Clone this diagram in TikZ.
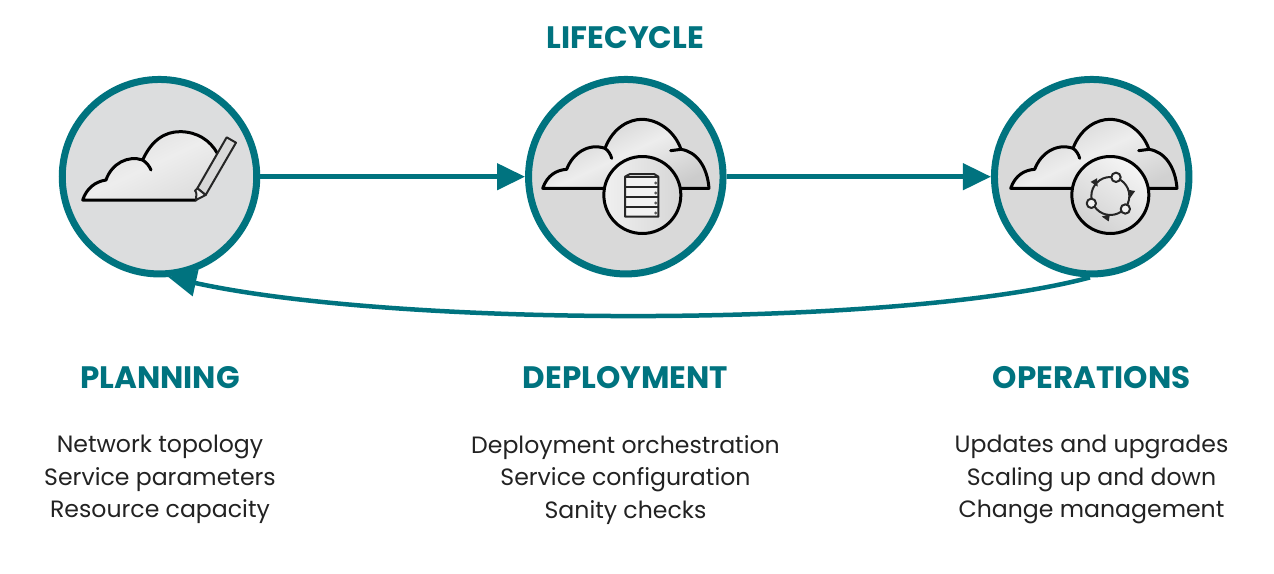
\documentclass[tikz,border=0pt]{standalone}
\usepackage{fontspec}
\setmainfont{Poppins}
\usetikzlibrary{arrows.meta}
\definecolor{tealx}{HTML}{00737F}
\definecolor{inkx}{HTML}{222222}
\definecolor{grayA}{HTML}{DCDDDE}
\definecolor{grayB}{HTML}{D9D9D9}
\tikzset{
  stage/.style={circle,draw=tealx,line width=7pt,fill=#1,minimum size=194.5pt,inner sep=0pt},
  flow/.style={draw=tealx,line width=4.5pt,-{Triangle[length=28pt,width=26pt]}},
  heading/.style={text=tealx,font=\fontsize{31}{36}\selectfont\bfseries,anchor=center,inner sep=0pt},
  items/.style={text=inkx,font=\fontsize{23.6}{32.5}\selectfont,align=center,anchor=north,inner sep=0pt},
  ink/.style={draw=black,line width=3pt,line join=round,line cap=round},
  inkthin/.style={draw=black!85,line width=2pt,line join=round},
  sheen/.style={left color=#1,right color=#1,middle color=white!93!black,shading angle=25},
}
\newcommand{\bigcloud}{
  (98,385) .. controls (112,345) and (140,330) .. (170,328)
  .. controls (188,280) and (235,248) .. (285,265)
  .. controls (310,200) and (360,178) .. (395,178)
  .. controls (445,178) and (495,215) .. (513,268)
  .. controls (560,275) and (592,320) .. (597,385) -- cycle
}
\begin{document}
\begin{tikzpicture}[x=1pt,y=-1pt]
\useasboundingbox (0,0) rectangle (1274,573);
\node[stage=grayA] (c1) at (159.5,176.7) {};
\node[stage=grayB] (c2) at (625.8,176.7) {};
\node[stage=grayB] (c3) at (1091.7,176.7) {};
\draw[flow] (c1.east) -- (c2.west);
\draw[flow] (c2.east) -- (c3.west);
\draw[flow] (c3.-91) .. controls (900,328) and (400,328) .. (c1.-85);
% icon 1
\begin{scope}[shift={(40,60)},scale=1/3]
  \shade[sheen=black!13] (128,420) .. controls (140,385) and (165,365) .. (198,360)
    .. controls (215,310) and (265,285) .. (308,300)
    .. controls (335,240) and (375,215) .. (420,215)
    .. controls (470,215) and (510,240) .. (532,280) -- (472,385) -- (468,420) -- cycle;
  \draw[ink] (532,280) .. controls (510,240) and (470,215) .. (420,215)
    .. controls (375,215) and (335,240) .. (308,300)
    .. controls (265,285) and (215,310) .. (198,360)
    .. controls (165,365) and (140,385) .. (128,420) -- (468,420);
  \draw[ink] (308,300) .. controls (320,308) and (328,318) .. (333,330);
  \draw[inkthin,fill=black!15] (560,232) -- (588,248) -- (497,405) -- (472,385) -- cycle;
  \draw[inkthin,fill=black!8] (472,385) -- (497,405) -- (468,420) .. controls (468,408) and (472,398) .. (465,392) -- cycle;
\end{scope}
% icon 2
\begin{scope}[shift={(510,60)},scale=1/3]
  \path[ink,sheen=black!20] \bigcloud;
  \draw[ink] (285,265) .. controls (295,272) and (302,283) .. (305,295);
  \draw[ink] (513,268) -- (482,272);
  \node[circle,ink,left color=black!6,right color=black!16,minimum size=77pt,inner sep=0pt] (srv) at (397,405) {};
  \draw[inkthin,fill=black!5] (345,470) -- (345,350) -- (360,342) -- (432,342) -- (445,350) -- (445,470) -- cycle;
  \foreach \yy in {352,382,412,442}{
    \draw[inkthin] (345,\yy) -- (445,\yy);
    \fill[black!65] (437,\yy+17) circle (5);
  }
\end{scope}
% icon 3
\begin{scope}[shift={(978,60)},scale=1/3]
  \path[ink,sheen=black!18] \bigcloud;
  \draw[ink] (285,265) .. controls (295,272) and (302,283) .. (305,295);
  \draw[ink] (513,268) -- (482,272);
  \node[circle,ink,left color=black!4,right color=black!18,shading angle=-35,minimum size=77pt,inner sep=0pt] (ops) at (397,405) {};
  \draw[inkthin] (397,408) circle (57);
  \foreach \ax/\ay/\ang in {352/368/-60,459/400/-100,385/472/170}{
    \fill[black!85,shift={(\ax,\ay)},rotate=\ang] (14,0) -- (-9,-11) -- (-9,11) -- cycle;
  }
  \foreach \ax/\ay in {414/352,442/447,340/430}{
    \draw[inkthin,fill=black!5] (\ax,\ay) circle (14);
  }
\end{scope}
% text
\node[heading] (life) at (625.5,38) {LIFECYCLE};
\node[heading] (h1) at (160,377.5) {PLANNING};
\node[heading] (h2) at (625.5,377.5) {DEPLOYMENT};
\node[heading] (h3) at (1091.5,377.5) {OPERATIONS};
\node[items] (t1) at (160,435) {Network topology\\Service parameters\\Resource capacity};
\node[items] (t2) at (625.5,435) {Deployment orchestration\\Service configuration\\Sanity checks};
\node[items] (t3) at (1091.5,435) {Updates and upgrades\\Scaling up and down\\Change management};
\end{tikzpicture}
\end{document}
